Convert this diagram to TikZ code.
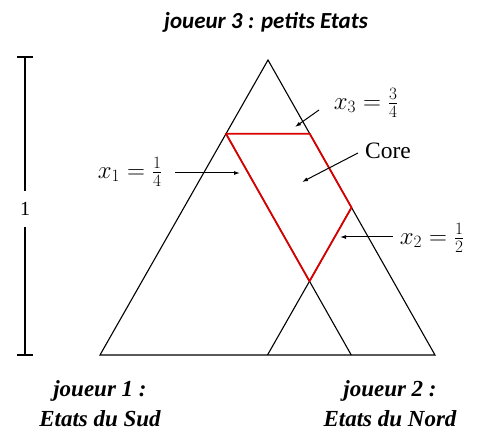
\documentclass[tikz,border=0pt]{standalone}
\usepackage{fontspec}
\setmainfont{Liberation Serif}
\newfontfamily\calib{Carlito}
\usetikzlibrary{arrows.meta,calc}
\begin{document}
\begin{tikzpicture}[x=1pt,y=-1pt,
  edge/.style={draw=black,line width=1.1pt},
  core/.style={draw=red!85!black,line width=1.8pt,line join=round},
  ptr/.style={draw=black,line width=1pt,-{Latex[length=6pt,width=4pt]}},
  lbl/.style={font=\fontsize{23.5}{25}\selectfont,inner sep=1pt},
  player/.style={font=\fontsize{23}{30}\selectfont\bfseries\itshape,align=center}]
\useasboundingbox (0,0) rectangle (480,433);
% vertices
\coordinate (A) at (100,355);
\coordinate (B) at (435,355);
\coordinate (C) at (268,60);
% special points
\coordinate (P13) at ($0.25*(A)+0.75*(C)$);
\coordinate (P23) at ($0.25*(B)+0.75*(C)$);
\coordinate (Q1) at ($0.25*(A)+0.75*(B)$);
\coordinate (Q2) at ($0.5*(A)+0.5*(B)$);
\coordinate (R2) at ($0.5*(B)+0.5*(C)$);
\coordinate (I) at ($0.25*(A)+0.5*(B)+0.25*(C)$);
% triangle and lines
\draw[edge] (A) -- (B) -- (C) -- cycle;
\draw[edge] (P13) -- (Q1);
\draw[edge] (Q2) -- (R2);
% core
\draw[core] (P13) -- (P23) -- (R2) -- (I) -- cycle;
% scale bar
\coordinate (St) at (25,57);
\coordinate (Sb) at (25,355);
\draw[edge] (St) -- (Sb);
\draw[edge] (17,57) -- (33,57);
\draw[edge] (17,355) -- (33,355);
\node[fill=white,font=\fontsize{20}{22}\selectfont,inner sep=3pt,minimum height=36pt] (one) at (25,209) {1};
% labels
\node[lbl] (x3) at (366,103) {$x_3 = \frac{3}{4}$};
\node[lbl] (cr) at (388,151) {Core};
\node[lbl] (x1) at (130,172) {$x_1 = \frac{1}{4}$};
\node[lbl] (x2) at (432,238) {$x_2 = \frac{1}{2}$};
\coordinate (s3) at (319,110);
\coordinate (t3) at (295,127);
\coordinate (sc) at (358,153);
\coordinate (tc) at (302,182);
\coordinate (s1) at (175,173);
\coordinate (t1) at (240,173);
\coordinate (s2) at (393,237);
\coordinate (t2) at (340,237);
\draw[ptr] (s3) -- (t3);
\draw[ptr] (sc) -- (tc);
\draw[ptr] (s1) -- (t1);
\draw[ptr] (s2) -- (t2);
% player labels
\node[font=\calib\fontsize{23}{26}\selectfont\bfseries\itshape] (p3) at (266,22) {joueur 3 : petits Etats};
\node[player] (p1) at (100,404) {joueur 1 :\\Etats du Sud};
\node[player] (p2) at (390,404) {joueur 2 :\\Etats du Nord};
\end{tikzpicture}
\end{document}
